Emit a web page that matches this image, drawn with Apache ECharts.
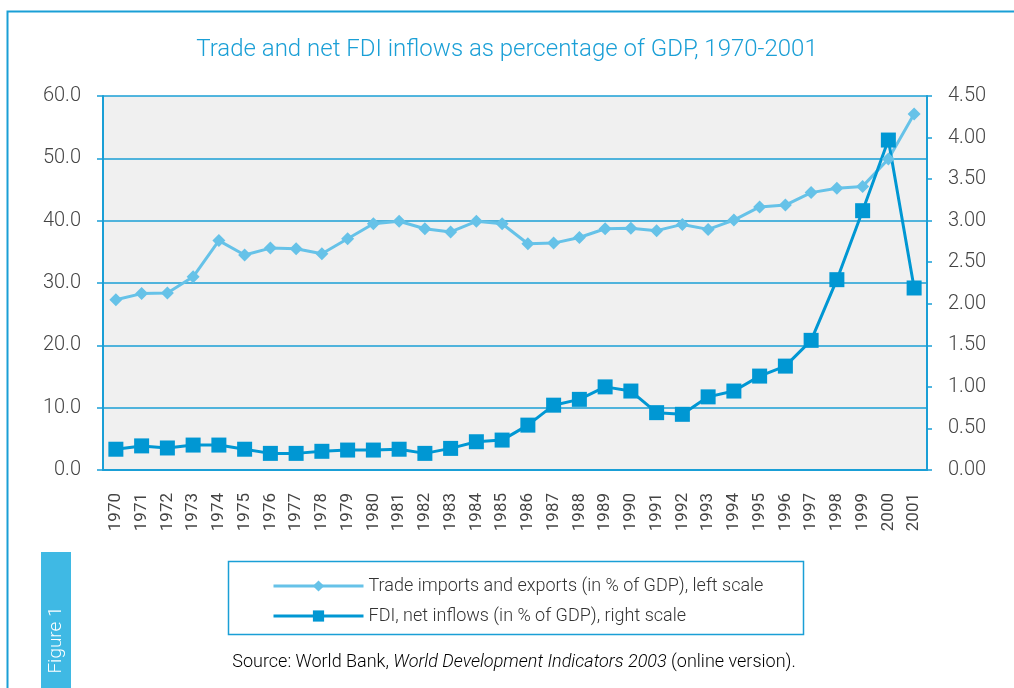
<!DOCTYPE html>
<html lang="en">
<head>
    <meta charset="UTF-8">
    <title>Trade and net FDI inflows</title>
    <script src="https://cdn.jsdelivr.net/npm/echarts@6/dist/echarts.min.js"></script>
    <style>
        html, body { margin: 0; padding: 0; background: #fff; }
    </style>
</head>
<body>
<div id="main" style="width: 1014px;height:688px;"></div>
<script type="text/javascript">
    // years on the x axis
    var years = ['1970', '1971', '1972', '1973', '1974', '1975', '1976', '1977', '1978', '1979',
        '1980', '1981', '1982', '1983', '1984', '1985', '1986', '1987', '1988', '1989',
        '1990', '1991', '1992', '1993', '1994', '1995', '1996', '1997', '1998', '1999',
        '2000', '2001'];
    // trade, % of GDP (left scale)
    var tradeValues = [27.3, 28.3, 28.4, 31.0, 36.8, 34.5, 35.6, 35.5, 34.7, 37.1,
        39.5, 39.9, 38.7, 38.2, 39.9, 39.5, 36.3, 36.4, 37.3, 38.7,
        38.8, 38.4, 39.4, 38.6, 40.1, 42.2, 42.5, 44.5, 45.2, 45.5,
        49.9, 57.1];
    // FDI net inflows, % of GDP (right scale)
    var fdiValues = [0.25, 0.29, 0.265, 0.30, 0.30, 0.25, 0.20, 0.20, 0.225, 0.24,
        0.24, 0.25, 0.20, 0.26, 0.34, 0.36, 0.54, 0.78, 0.85, 1.00,
        0.95, 0.69, 0.67, 0.88, 0.95, 1.13, 1.25, 1.56, 2.29, 3.12,
        3.97, 2.19];
    var seriesNames = ['Trade imports and exports (in % of GDP), left scale',
        'FDI, net inflows (in % of GDP), right scale'];

    var blue = '#1a9fd6';
    var font = 'Roboto, "Open Sans", sans-serif';

    var myChart = echarts.init(document.getElementById('main'));
    var option = {
        animation: false,
        backgroundColor: '#fff',
        textStyle: {fontFamily: font},
        title: {
            text: 'Trade and net FDI inflows as percentage of GDP, 1970-2001',
            left: 'center',
            top: 33,
            textStyle: {color: blue, fontSize: 24, fontWeight: 300, fontFamily: font}
        },
        grid: {
            left: 103,
            right: 87,
            top: 96,
            bottom: 218,
            show: true,
            backgroundColor: '#f0f0f0',
            borderWidth: 0
        },
        legend: {
            orient: 'vertical',
            left: 267,
            top: 572,
            itemWidth: 90,
            itemHeight: 14,
            itemGap: 12,
            lineStyle: {width: 3},
            textStyle: {color: '#333', fontSize: 18, fontWeight: 300, fontFamily: font},
            data: seriesNames
        },
        xAxis: [{
            type: 'category',
            data: years,
            boundaryGap: true,
            axisLine: {lineStyle: {color: blue, width: 2}},
            axisTick: {inside: true, length: 6, lineStyle: {color: blue, width: 1.5}},
            axisLabel: {rotate: 90, margin: 23, color: '#444', fontSize: 17, fontFamily: font}
        }, {
            type: 'category',
            data: years,
            position: 'bottom',
            boundaryGap: true,
            axisLine: {show: false},
            axisTick: {length: 5, lineStyle: {color: blue, width: 1.5}},
            axisLabel: {show: false}
        }],
        yAxis: [{
            type: 'value',
            min: 0,
            max: 60,
            interval: 10,
            axisLine: {show: true, lineStyle: {color: blue, width: 2}},
            axisTick: {show: true, length: 6, lineStyle: {color: blue, width: 1.5}},
            axisLabel: {
                margin: 22, color: '#444', fontSize: 20, fontWeight: 300, fontFamily: font,
                formatter: function (v) { return v.toFixed(1); }
            },
            splitLine: {lineStyle: {color: blue, width: 1.5}}
        }, {
            type: 'value',
            min: 0,
            max: 4.5,
            interval: 0.5,
            position: 'right',
            axisLine: {show: true, lineStyle: {color: blue, width: 2}},
            axisTick: {show: true, length: 5, lineStyle: {color: blue, width: 1.5}},
            axisLabel: {
                margin: 21, color: '#444', fontSize: 20, fontWeight: 300, fontFamily: font,
                formatter: function (v) { return v.toFixed(2); }
            },
            splitLine: {show: false}
        }],
        series: [{
            name: seriesNames[0],
            type: 'line',
            yAxisIndex: 0,
            data: tradeValues,
            symbol: 'diamond',
            symbolSize: 13,
            lineStyle: {color: '#66c2e8', width: 3},
            itemStyle: {color: '#66c2e8'}
        }, {
            name: seriesNames[1],
            type: 'line',
            yAxisIndex: 1,
            data: fdiValues,
            symbol: 'rect',
            symbolSize: 15,
            lineStyle: {color: '#0097d3', width: 3},
            itemStyle: {color: '#0097d3'},
            z: 3
        }],
        graphic: [{
            // page frame
            type: 'polyline',
            shape: {points: [[7.5, 688], [7.5, 11.5], [1014, 11.5]]},
            style: {stroke: blue, lineWidth: 2, fill: null},
            silent: true
        }, {
            // figure tab
            type: 'rect',
            shape: {x: 41, y: 552, width: 30, height: 136},
            style: {fill: '#3fb9e4'},
            silent: true
        }, {
            type: 'text',
            x: 56,
            y: 640,
            rotation: Math.PI / 2,
            style: {
                text: 'Figure 1', fill: '#fff', font: '300 19px ' + font,
                align: 'center', verticalAlign: 'middle'
            },
            silent: true
        }, {
            // legend frame
            type: 'rect',
            shape: {x: 228.5, y: 561.5, width: 575, height: 73},
            style: {fill: null, stroke: blue, lineWidth: 1.5},
            silent: true
        }, {
            type: 'text',
            x: 514,
            y: 662,
            style: {
                text: '{n|Source: World Bank, }{i|World Development Indicators 2003}{n| (online version).}',
                align: 'center',
                verticalAlign: 'middle',
                rich: {
                    n: {fontSize: 18, fontWeight: 300, color: '#333', fontFamily: font},
                    i: {fontSize: 18, fontWeight: 300, color: '#333', fontFamily: font, fontStyle: 'italic'}
                }
            },
            silent: true
        }]
    };
    myChart.setOption(option);
</script>
</body>
</html>
